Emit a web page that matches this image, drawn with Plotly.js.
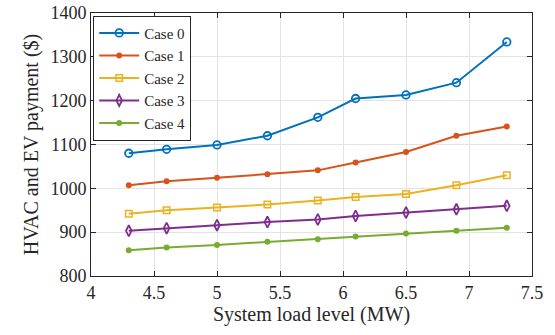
<!DOCTYPE html>
<html><head><meta charset="utf-8">
<script src="https://cdn.plot.ly/plotly-3.0.1.min.js"></script>
<style>html,body{margin:0;padding:0;background:#fff;}#chart{width:555px;height:335px;}</style>
</head><body><div id="chart"></div>
<script>
const loadLevels = [4.3, 4.6, 5.0, 5.4, 5.8, 6.1, 6.5, 6.9, 7.3];
const case0 = [1080, 1089, 1099, 1120, 1162, 1205, 1213, 1241, 1334];
const case1 = [1007, 1016, 1024, 1032, 1041, 1059, 1083, 1120, 1141];
const case2 = [942, 950, 956, 963, 972, 980, 987, 1007, 1030];
const case3 = [903, 909, 916, 923, 929, 937, 945, 952, 960];
const case4 = [859, 865, 871, 878, 884, 890, 897, 903, 910];
const seriesNames = ['Case 0', 'Case 1', 'Case 2', 'Case 3', 'Case 4'];
const xTicks = [4, 4.5, 5, 5.5, 6, 6.5, 7, 7.5];
const yTicks = [800, 900, 1000, 1100, 1200, 1300, 1400];

const colors = ['#0072BD', '#D95319', '#EDB120', '#7E2F8E', '#77AC30'];
const markers = [
  {symbol: 'circle-open', size: 7.5, line: {width: 1.8}},
  {symbol: 'circle', size: 6},
  {symbol: 'square-open', size: 6.5, line: {width: 1.5}},
  {symbol: 'diamond-tall-open', size: 8, line: {width: 1.8}},
  {symbol: 'circle', size: 6}
];
const data = [case0, case1, case2, case3, case4].map((ys, i) => ({
  x: loadLevels, y: ys, name: seriesNames[i], type: 'scatter', mode: 'lines+markers',
  line: {color: colors[i], width: 2},
  marker: Object.assign({color: colors[i]}, markers[i])
}));

const fam = 'Liberation Serif';
const tc = '#262626';
const layout = {
  width: 555, height: 335,
  margin: {l: 91, r: 23, t: 13, b: 59},
  paper_bgcolor: '#fff', plot_bgcolor: '#fff',
  font: {family: fam, size: 18, color: tc},
  showlegend: true,
  legend: {x: 0.005, y: 0.99, xanchor: 'left', yanchor: 'top', bgcolor: '#fff',
           bordercolor: tc, borderwidth: 1, font: {family: fam, size: 15, color: tc},
           tracegroupgap: 0, itemwidth: 40},
  xaxis: {range: [4, 7.5], tickvals: xTicks, ticktext: xTicks.map(String),
          showgrid: true, gridcolor: '#e3e3e3', zeroline: false,
          showline: true, linecolor: tc, linewidth: 1, mirror: 'ticks',
          ticks: 'inside', ticklen: 5, tickcolor: tc,
          tickfont: {family: fam, size: 18, color: tc},
          title: {text: 'System load level (MW)', font: {family: fam, size: 20, color: tc}, standoff: 4}},
  yaxis: {range: [800, 1400], tickvals: yTicks, ticktext: yTicks.map(String),
          showgrid: true, gridcolor: '#e3e3e3', zeroline: false,
          showline: true, linecolor: tc, linewidth: 1, mirror: 'ticks',
          ticks: 'inside', ticklen: 5, tickcolor: tc,
          tickfont: {family: fam, size: 18, color: tc},
          title: {text: 'HVAC and EV payment ($)', font: {family: fam, size: 20, color: tc}, standoff: 6}}
};
Plotly.newPlot('chart', data, layout, {displayModeBar: false, staticPlot: true});
</script></body></html>
